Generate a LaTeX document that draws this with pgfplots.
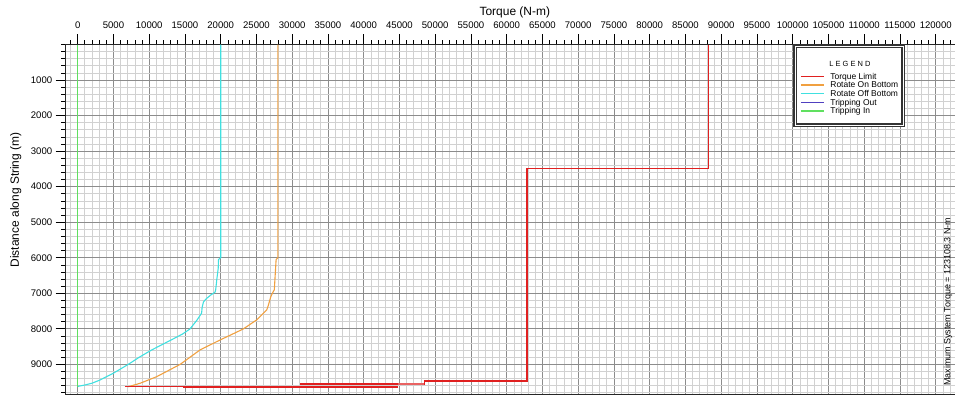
\documentclass[border=0pt]{standalone}
\usepackage{fontspec}
\setmainfont{Liberation Sans}
\usepackage{pgfplots}
\pgfplotsset{compat=1.18}
\usepackage{pgfplotstable}

\definecolor{tlim}{HTML}{E02020}
\definecolor{rob}{HTML}{F0A040}
\definecolor{roff}{HTML}{40E0E0}
\definecolor{tout}{HTML}{5040C0}
\definecolor{tin}{HTML}{60E060}

\pgfplotstableread{
x y
88200 0
88200 3480
62850 3480
62850 9470
48450 9470
48450 9550
31100 9550
}\torquelimit

\pgfplotstableread{
x y
28000 0
28000 6000
27750 6050
27500 6900
27300 6970
27000 7100
26600 7380
26430 7470
25020 7750
23150 8005
19900 8315
17100 8595
14330 9000
11040 9347
8710 9533
7070 9630
}\rotateon

\pgfplotstableread{
x y
20000 0
20000 6000
19700 6050
19650 6300
19450 6620
19300 6900
19200 6970
18600 7050
18000 7150
17600 7240
17400 7400
17330 7560
16700 7750
15700 8005
14670 8145
13200 8300
10340 8595
8600 8800
7070 9000
4980 9250
3120 9440
2000 9530
1020 9580
0 9620
}\rotateoff

\pgfplotstableread{
x y
0 0
0 9630
}\tripout

\pgfplotstableread{
x y
0 0
0 9630
}\tripin

\newcommand{\rs}{\rule[-1.08bp]{0pt}{8.25bp}}

\begin{document}
\begin{tikzpicture}[x=1bp,y=1bp]
\useasboundingbox (0,0) rectangle (955,396);
\begin{axis}[
  at={(65.7bp,351.5bp)}, anchor=north west,
  scale only axis, width=889.3bp, height=350bp,
  xmin=-1678, xmax=122700, ymin=0, ymax=9848,
  y dir=reverse,
  xtick={0,5000,10000,15000,20000,25000,30000,35000,40000,45000,50000,55000,60000,65000,70000,75000,80000,85000,90000,95000,100000,105000,110000,115000,120000},
  minor xtick={-1000,0,1000,2000,3000,4000,5000,6000,7000,8000,9000,10000,11000,12000,13000,14000,15000,16000,17000,18000,19000,20000,21000,22000,23000,24000,25000,26000,27000,28000,29000,30000,31000,32000,33000,34000,35000,36000,37000,38000,39000,40000,41000,42000,43000,44000,45000,46000,47000,48000,49000,50000,51000,52000,53000,54000,55000,56000,57000,58000,59000,60000,61000,62000,63000,64000,65000,66000,67000,68000,69000,70000,71000,72000,73000,74000,75000,76000,77000,78000,79000,80000,81000,82000,83000,84000,85000,86000,87000,88000,89000,90000,91000,92000,93000,94000,95000,96000,97000,98000,99000,100000,101000,102000,103000,104000,105000,106000,107000,108000,109000,110000,111000,112000,113000,114000,115000,116000,117000,118000,119000,120000,121000,122000},
  ytick={1000,2000,3000,4000,5000,6000,7000,8000,9000},
  minor ytick={0,200,...,9800},
  xtick pos=upper, xticklabel pos=upper,
  ytick pos=left, yticklabel pos=left,
  tick align=outside,
  major tick length=10bp, minor tick length=4.5bp,
  every tick/.style={black, line width=0.7bp},
  grid=both,
  major grid style={draw=black!45, line width=0.7bp},
  minor grid style={draw=black!18, line width=0.7bp},
  axis line style={black!85, line width=0.9bp},
  tick label style={font=\fontsize{9.6}{10}\selectfont},
  xticklabel style={yshift=2.5bp},
  /pgf/number format/assume math mode=true,
  scaled x ticks=false, scaled y ticks=false,
  xticklabel style={/pgf/number format/fixed, /pgf/number format/1000 sep={}},
  yticklabel style={/pgf/number format/fixed, /pgf/number format/1000 sep={}},
  xlabel={Torque (N-m)},
  xlabel style={at={(axis description cs:0.505,1)}, anchor=center, yshift=32.5bp, font=\fontsize{12}{13}\selectfont},
  ylabel={Distance along String (m)},
  ylabel style={at={(axis description cs:-0.0562,0.556)}, anchor=center, font=\fontsize{12}{13}\selectfont},
  legend style={at={(axis description cs:0.8257,0.9217)}, anchor=north west,
    draw=none, fill=none, inner sep=0bp, row sep=0bp,
    nodes={inner sep=0bp},
    font=\fontsize{8.5}{8.5}\selectfont, cells={anchor=west}},
  legend image code/.code={\draw[#1, line width=1.2bp] (0bp,0bp) -- (23bp,0bp); \path (29bp,0bp);},
]
\addplot[tlim, line width=1.2bp] table[x=x,y=y] {\torquelimit};
\addlegendentry{Torque Limit\rs}
\addplot[rob, line width=1.1bp] table[x=x,y=y] {\rotateon};
\addlegendentry{Rotate On Bottom\rs}
\addplot[roff, line width=1.1bp] table[x=x,y=y] {\rotateoff};
\addlegendentry{Rotate Off Bottom\rs}
\addplot[tout, line width=1.1bp] table[x=x,y=y] {\tripout};
\addlegendentry{Tripping Out\rs}
\addplot[tin, line width=1.1bp] table[x=x,y=y] {\tripin};
\addlegendentry{Tripping In\rs}
\addplot[tlim, line width=1.2bp, forget plot] coordinates {(6600,9630) (44800,9630)};
\addplot[tlim, line width=1.8bp, forget plot] coordinates {(14750,9630) (44800,9630)};
\addplot[tlim, line width=1.8bp, forget plot] coordinates {(31100,9555) (44800,9555)};
\addplot[tlim!70, line width=1.2bp, forget plot] coordinates {(44800,9555) (48450,9555)};
\draw[black!80, line width=1.1bp, double=white, double distance=0.9bp, fill=white]
  (axis description cs:0.8201,0.9957) rectangle (axis description cs:0.9415,0.77);
\node[anchor=center, inner sep=0pt, font=\fontsize{7.5}{8}\selectfont] at (axis description cs:0.8819,0.9443) {L E G E N D};
\node[rotate=90, anchor=west, inner sep=0pt, font=\fontsize{9}{10}\selectfont] at (axis cs:121720,9610) {Maximum System Torque = 123108.3 N-m};
\end{axis}
\end{tikzpicture}
\end{document}
